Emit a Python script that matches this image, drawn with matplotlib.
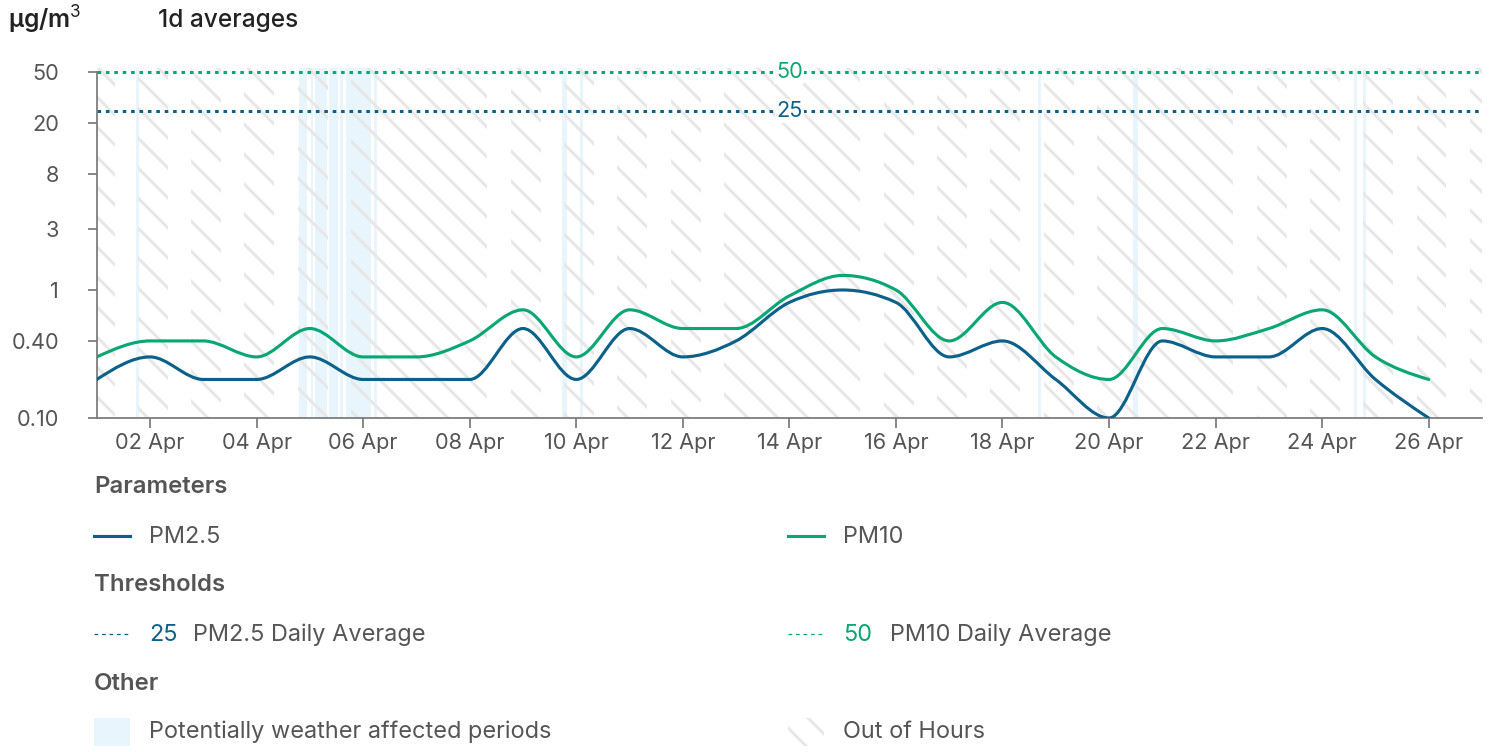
import matplotlib
matplotlib.use("Agg")
import matplotlib.pyplot as plt
import matplotlib.dates as mdates
from matplotlib.path import Path
from matplotlib.patches import PathPatch, Rectangle
from matplotlib.lines import Line2D
from matplotlib.ticker import FixedLocator, FixedFormatter, NullLocator
import numpy as np
import pandas as pd

# daily averages (ug/m3)
days = pd.date_range("2024-04-01", periods=26, freq="D")
pm25 = [0.2, 0.3, 0.2, 0.2, 0.3, 0.2, 0.2, 0.2, 0.5, 0.2, 0.5, 0.3, 0.4,
        0.8, 1.0, 0.8, 0.3, 0.4, 0.2, 0.1, 0.4, 0.3, 0.3, 0.5, 0.2, 0.1]
pm10 = [0.3, 0.4, 0.4, 0.3, 0.5, 0.3, 0.3, 0.4, 0.7, 0.3, 0.7, 0.5, 0.5,
        0.9, 1.3, 1.0, 0.4, 0.8, 0.3, 0.2, 0.5, 0.4, 0.5, 0.7, 0.3, 0.2]

# thresholds
pm25_limit = 25
pm10_limit = 50

# y ticks
yticks = [0.1, 0.4, 1, 3, 8, 20, 50]
yticklabels = ["0.10", "0.40", "1", "3", "8", "20", "50"]

# potentially weather affected periods
weather_start = ["2024-04-01 17:40", "2024-04-04 19:00", "2024-04-05 00:30",
                 "2024-04-05 02:20", "2024-04-05 08:40", "2024-04-05 13:40",
                 "2024-04-05 16:20", "2024-04-06 05:00", "2024-04-09 17:40",
                 "2024-04-10 01:50", "2024-04-18 15:50", "2024-04-20 10:35",
                 "2024-04-24 14:10", "2024-04-24 18:15"]
weather_end = ["2024-04-01 19:10", "2024-04-04 22:45", "2024-04-05 01:30",
               "2024-04-05 07:45", "2024-04-05 12:45", "2024-04-05 15:00",
               "2024-04-06 03:40", "2024-04-06 06:20", "2024-04-09 19:55",
               "2024-04-10 03:10", "2024-04-18 17:10", "2024-04-20 12:50",
               "2024-04-24 15:30", "2024-04-24 19:35"]

# working hours (outside = out of hours, weekends fully out of hours)
work_start_h = 8.0
work_end_h = 18.5

BLUE = "#0b6189"
GREEN = "#0aa775"
GREY_TXT = "#555555"
AXIS = "#7a7a7a"
HATCH = "#e7e7e7"
WEATHER = "#e9f5fd"

W, H, DPI = 1493, 752, 180
plt.rcParams["font.family"] = ["Inter", "DejaVu Sans"]
plt.rcParams["mathtext.fontset"] = "custom"
plt.rcParams["mathtext.rm"] = "Inter"
plt.rcParams["mathtext.bf"] = "Inter:bold"
plt.rcParams["hatch.linewidth"] = 1.2

TICK_FS = 8.7
LEG_FS = 9.4


def px(x, y):
    return x / W, 1 - y / H


def monotone_path(xs, ys):
    # monotone cubic (like d3 curveMonotoneX), computed in log space
    x = np.asarray(xs, float)
    y = np.log10(np.asarray(ys, float))
    n = len(x)
    t = np.zeros(n)
    for i in range(1, n - 1):
        h0, h1 = x[i] - x[i - 1], x[i + 1] - x[i]
        s0, s1 = (y[i] - y[i - 1]) / h0, (y[i + 1] - y[i]) / h1
        p = (s0 * h1 + s1 * h0) / (h0 + h1)
        t[i] = (np.sign(s0) + np.sign(s1)) * min(abs(s0), abs(s1), 0.5 * abs(p))
    h = x[1] - x[0]
    t[0] = (3 * (y[1] - y[0]) / h - t[1]) / 2
    h = x[-1] - x[-2]
    t[-1] = (3 * (y[-1] - y[-2]) / h - t[-2]) / 2
    verts = [(x[0], y[0])]
    codes = [Path.MOVETO]
    for i in range(n - 1):
        dx = (x[i + 1] - x[i]) / 3
        verts += [(x[i] + dx, y[i] + dx * t[i]),
                  (x[i + 1] - dx, y[i + 1] - dx * t[i + 1]),
                  (x[i + 1], y[i + 1])]
        codes += [Path.CURVE4] * 3
    verts = np.array(verts)
    verts[:, 1] = 10 ** verts[:, 1]
    return Path(verts, codes)


fig = plt.figure(figsize=(W / DPI, H / DPI), dpi=DPI)
ax = fig.add_axes([96.75 / W, 1 - 418 / H, (1482 - 96.75) / W, (418 - 68) / H])
ax.set_yscale("log")
ax.set_ylim(0.1, 54.2)
x0 = pd.Timestamp("2024-04-01")
x1 = pd.Timestamp("2024-04-27")
ax.set_xlim(x0, x1)

# weather affected periods
for s, e in zip(weather_start, weather_end):
    ax.axvspan(pd.Timestamp(s), pd.Timestamp(e), facecolor=WEATHER,
               edgecolor="none", lw=0, zorder=0)

# out of hours hatch
spans = []
for d in pd.date_range(x0, x1 - pd.Timedelta(days=1), freq="D"):
    nxt = d + pd.Timedelta(days=1)
    if d.weekday() >= 5:
        parts = [(d, nxt)]
    else:
        parts = [(d, d + pd.Timedelta(hours=work_start_h)),
                 (d + pd.Timedelta(hours=work_end_h), nxt)]
    for a, b in parts:
        if spans and spans[-1][1] == a:
            spans[-1] = (spans[-1][0], b)
        else:
            spans.append((a, b))
for a, b in spans:
    ax.axvspan(a, b, facecolor="none", edgecolor=HATCH, lw=0,
               hatch="\\\\", zorder=0.5)

# thresholds
for val, col in [(pm10_limit, GREEN), (pm25_limit, BLUE)]:
    ax.axhline(val, color=col, lw=1.2, linestyle=(0, (1.2, 1.6)),
               dash_capstyle="butt", zorder=2)
    ax.text(0.5, val, str(val), transform=ax.get_yaxis_transform(),
            ha="center", va="center", color=col, fontsize=TICK_FS, zorder=2.5,
            bbox=dict(facecolor="white", edgecolor="none", pad=0.6))

# series
dnum = mdates.date2num(days)
for vals, col in [(pm10, GREEN), (pm25, BLUE)]:
    ax.add_patch(PathPatch(monotone_path(dnum, vals), facecolor="none",
                           edgecolor=col, lw=1.25, capstyle="round",
                           joinstyle="round", zorder=3))

# axes styling
ax.yaxis.set_major_locator(FixedLocator(yticks))
ax.yaxis.set_major_formatter(FixedFormatter(yticklabels))
ax.yaxis.set_minor_locator(NullLocator())
ax.xaxis.set_major_locator(mdates.DayLocator(bymonthday=range(2, 27, 2)))
ax.xaxis.set_major_formatter(mdates.DateFormatter("%d %b"))
ax.xaxis.set_minor_locator(NullLocator())
for s in ["top", "right"]:
    ax.spines[s].set_visible(False)
for s in ["left", "bottom"]:
    ax.spines[s].set_color(AXIS)
    ax.spines[s].set_linewidth(0.7)
ax.spines["left"].set_bounds(0.1, 50)
ax.tick_params(axis="both", colors=AXIS, width=0.7, labelcolor=GREY_TXT,
               labelsize=TICK_FS)
ax.tick_params(axis="y", length=3.6, pad=11.5)
ax.tick_params(axis="x", length=4, pad=2)
ax.set_facecolor("white")

# header
fig.text(*px(8, 20), r"µg/m$^{3}$", fontsize=9.8, color="#222222", va="center",
         fontweight="semibold")
fig.text(*px(158, 20), "1d averages", fontsize=9.8, color="#222222",
         va="center", fontweight="medium")


# legend
def heading(y, s):
    fig.text(*px(94, y), s, fontsize=9.6, color=GREY_TXT, va="center",
             fontweight="semibold")


def label(x, y, s, color=GREY_TXT):
    fig.text(*px(x, y), s, fontsize=LEG_FS, color=color, va="center")


heading(487, "Parameters")
for xs, col, name in [(94, BLUE, "PM2.5"), (788, GREEN, "PM10")]:
    fig.add_artist(Line2D([xs / W, (xs + 36) / W], [1 - 536 / H] * 2,
                          color=col, lw=1.25))
    label(xs + 55, 537, name)

heading(585, "Thresholds")
for xs, col, val, name in [(94, BLUE, pm25_limit, "PM2.5 Daily Average"),
                           (788, GREEN, pm10_limit, "PM10 Daily Average")]:
    fig.add_artist(Line2D([xs / W, (xs + 36) / W], [1 - 634 / H] * 2,
                          color=col, lw=0.5, linestyle=(0, (3, 3))))
    label(xs + 55, 635, str(val), color=col)
    label(xs + 55 + (44 if val == pm25_limit else 47), 635, name)

heading(684, "Other")
fig.add_artist(Rectangle(px(94, 746), 36 / W, 28 / H, transform=fig.transFigure,
                         facecolor=WEATHER, edgecolor="none"))
label(149, 732, "Potentially weather affected periods")
fig.add_artist(Rectangle(px(788, 746), 36 / W, 28 / H, transform=fig.transFigure,
                         facecolor="none", edgecolor=HATCH, lw=0, hatch="\\\\"))
label(843, 732, "Out of Hours")

fig.savefig("out.png", dpi=DPI, facecolor="white")
